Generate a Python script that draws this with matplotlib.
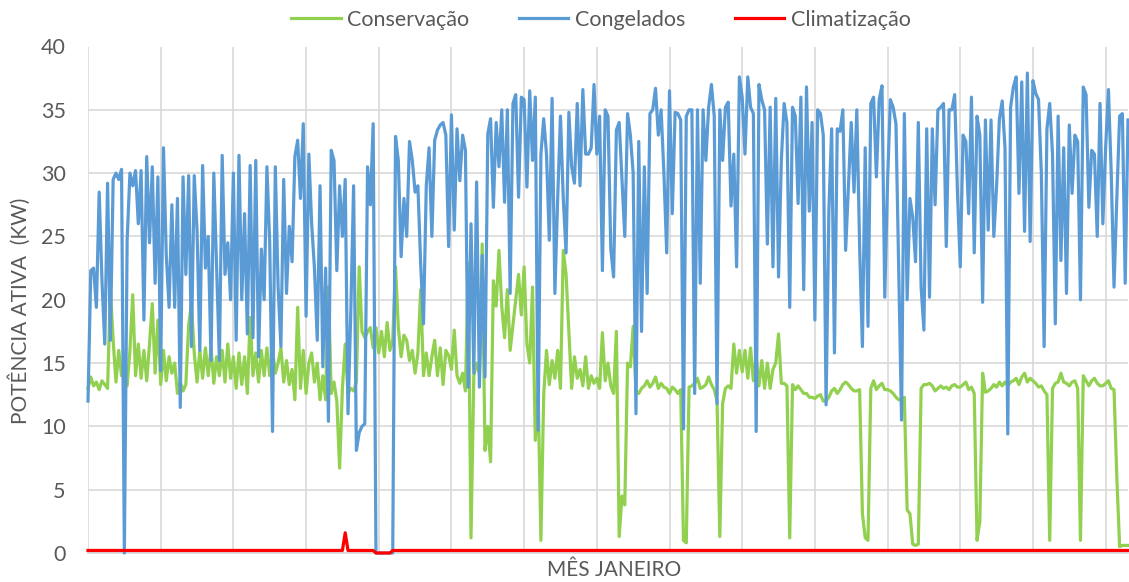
import numpy as np
import matplotlib
matplotlib.use('Agg')
import matplotlib.pyplot as plt

plt.rcParams['font.family'] = ['Lato', 'DejaVu Sans']

# potência ativa (kW), uma leitura a cada 2 horas durante janeiro
conservacao = [
    13.0, 13.9, 13.2, 13.5, 12.9, 13.6, 13.3, 13.0, 20.8, 16.8,
    13.5, 16.0, 14.0, 15.5, 13.2, 16.0, 20.4, 14.0, 16.5, 13.8,
    16.0, 13.6, 16.5, 19.7, 14.2, 18.4, 13.3, 16.0, 13.6, 15.5,
    14.2, 15.0, 12.6, 13.5, 12.8, 13.3, 18.0, 19.7, 15.8, 13.5,
    16.0, 13.8, 16.2, 14.0, 16.2, 13.4, 15.5, 14.0, 16.0, 13.5,
    16.5, 13.8, 15.5, 13.0, 15.8, 13.3, 15.5, 12.6, 18.6, 14.0,
    15.8, 13.5, 16.0, 14.0, 16.2, 14.0, 16.0, 14.2, 15.0, 16.2,
    13.5, 15.2, 13.3, 14.5, 12.1, 19.4, 13.0, 16.0, 12.6, 15.0,
    15.8, 13.5, 15.0, 12.1, 14.0, 12.1, 21.0, 12.6, 13.5, 12.0,
    6.7, 13.0, 16.5, 12.6, 13.0, 12.8, 13.5, 22.6, 17.5, 17.0,
    17.5, 17.8, 16.2, 17.8, 15.8, 17.5, 15.5, 18.2, 16.0, 16.8,
    22.6, 17.8, 15.5, 17.2, 16.8, 15.2, 16.0, 14.2, 15.8, 20.8,
    14.0, 15.8, 14.0, 15.5, 16.8, 14.0, 16.2, 13.3, 16.0, 15.6,
    14.5, 17.6, 14.0, 13.4, 14.2, 12.8, 22.9, 1.2, 14.0, 15.0,
    14.2, 24.4, 8.1, 10.0, 7.2, 21.5, 19.5, 23.9, 19.5, 17.0,
    20.8, 16.0, 18.0, 20.0, 22.0, 18.8, 22.6, 16.5, 15.0, 21.0,
    8.9, 12.8, 1.0, 12.5, 16.0, 13.3, 15.2, 13.8, 16.0, 13.0,
    23.9, 22.0, 17.5, 13.0, 15.5, 13.8, 14.5, 13.2, 15.5, 13.0,
    14.0, 13.4, 13.8, 13.0, 17.4, 13.6, 15.0, 13.2, 12.6, 17.5,
    1.3, 4.5, 3.8, 15.0, 14.7, 17.9, 12.8, 12.6, 13.0, 13.2,
    13.6, 13.1, 13.4, 13.9, 13.0, 13.4, 13.1, 13.0, 12.6, 13.1,
    12.9, 12.6, 12.9, 1.0, 0.8, 13.1, 13.2, 13.4, 13.8, 13.0,
    13.1, 13.3, 13.9, 13.3, 12.9, 12.0, 1.3, 11.8, 13.0, 13.2,
    13.0, 16.5, 14.2, 16.0, 14.3, 16.0, 13.8, 16.2, 13.6, 15.5,
    13.2, 15.2, 13.0, 15.0, 13.0, 14.5, 15.0, 17.3, 13.4, 13.4,
    13.2, 1.2, 13.3, 12.9, 13.2, 12.9, 12.6, 12.6, 12.3, 12.3,
    12.2, 12.4, 12.5, 12.0, 12.0, 12.3, 12.8, 13.0, 12.6, 12.9,
    13.3, 13.5, 13.3, 13.0, 12.8, 12.8, 12.9, 3.1, 1.2, 1.0,
    13.0, 13.6, 12.9, 13.2, 13.4, 12.9, 12.9, 12.8, 12.6, 12.3,
    12.1, 12.1, 12.3, 3.4, 3.1, 0.7, 0.6, 0.7, 13.0, 13.3,
    13.3, 13.4, 13.2, 12.8, 13.0, 13.2, 13.0, 13.1, 12.9, 13.2,
    13.3, 13.1, 13.1, 13.3, 13.5, 12.9, 13.1, 12.6, 1.0, 2.5,
    14.2, 12.7, 12.8, 13.0, 13.3, 13.1, 13.5, 13.2, 13.5, 13.2,
    13.5, 13.6, 13.8, 13.3, 13.9, 14.2, 13.5, 13.8, 13.6, 13.4,
    13.1, 13.2, 12.8, 12.5, 1.0, 13.0, 13.4, 13.5, 14.2, 13.5,
    13.4, 13.2, 13.5, 13.6, 13.0, 1.0, 14.0, 13.6, 13.2, 13.6,
    13.8, 13.4, 13.2, 13.2, 13.4, 13.6, 13.0, 12.9, 6.0, 0.5,
    0.6, 0.6, 0.6,
]

congelados = [
    12.0, 22.3, 22.5, 19.4, 28.5, 21.5, 16.5, 29.2, 16.8, 29.5,
    30.0, 29.5, 30.3, 0.0, 24.7, 30.0, 29.0, 30.2, 26.0, 30.2,
    18.4, 31.3, 24.5, 30.5, 21.3, 29.7, 14.4, 32.0, 23.5, 19.4,
    27.5, 19.4, 28.0, 11.5, 29.7, 22.0, 29.8, 16.3, 29.8, 25.5,
    16.0, 30.6, 22.5, 25.0, 15.2, 30.0, 22.5, 15.2, 31.4, 22.0,
    24.5, 20.0, 30.0, 16.8, 31.4, 20.0, 26.8, 17.3, 30.6, 17.0,
    31.0, 15.5, 24.0, 20.0, 30.5, 24.5, 9.6, 30.5, 21.0, 16.3,
    29.5, 20.5, 25.8, 23.0, 31.3, 32.6, 28.0, 33.9, 18.7, 31.5,
    26.0, 22.5, 16.8, 29.0, 14.7, 22.5, 10.4, 31.8, 31.0, 22.3,
    29.0, 25.0, 29.5, 11.0, 19.0, 29.0, 8.1, 9.5, 10.0, 10.2,
    30.5, 27.5, 33.9, 0.0, 0.0, 0.0, 0.0, 0.0, 0.0, 0.0,
    32.9, 31.0, 23.4, 28.0, 25.0, 32.5, 31.0, 28.5, 29.0, 22.8,
    18.1, 29.0, 32.0, 25.0, 32.6, 33.4, 33.8, 34.0, 33.0, 24.2,
    34.6, 25.5, 33.5, 29.4, 33.0, 31.8, 13.1, 26.0, 14.2, 29.3,
    13.1, 23.5, 13.9, 33.1, 34.3, 27.3, 34.0, 30.5, 35.0, 27.7,
    35.0, 20.5, 35.5, 36.2, 28.1, 36.0, 35.8, 28.9, 36.5, 31.0,
    36.0, 9.7, 31.5, 34.3, 31.5, 24.7, 35.9, 20.5, 28.0, 34.5,
    28.0, 23.7, 34.8, 30.5, 29.2, 35.5, 29.0, 36.6, 31.5, 31.5,
    32.0, 37.0, 31.5, 34.5, 22.3, 35.0, 34.5, 24.0, 21.8, 33.4,
    34.0, 29.5, 25.0, 34.7, 33.0, 30.0, 11.0, 32.5, 17.5, 30.5,
    20.5, 34.7, 35.0, 36.7, 33.0, 35.0, 30.0, 23.7, 36.5, 26.8,
    34.8, 34.7, 34.2, 9.8, 34.5, 35.0, 35.0, 12.6, 35.0, 21.3,
    35.0, 31.0, 35.2, 37.0, 34.5, 11.8, 35.0, 31.0, 35.2, 35.6,
    27.4, 31.5, 22.6, 37.6, 36.0, 31.5, 37.6, 35.2, 34.7, 9.6,
    37.0, 35.8, 35.0, 24.4, 35.2, 22.6, 35.9, 21.8, 31.0, 35.5,
    34.0, 19.4, 35.2, 34.5, 27.6, 36.0, 20.8, 36.8, 27.0, 34.0,
    18.4, 35.0, 34.7, 33.0, 11.7, 27.0, 33.5, 15.8, 33.5, 33.3,
    35.0, 23.9, 29.0, 34.0, 28.5, 35.0, 24.2, 16.3, 32.0, 17.9,
    35.5, 36.0, 29.7, 35.8, 36.9, 20.2, 29.4, 35.8, 35.2, 33.9,
    22.3, 10.5, 34.7, 20.0, 28.0, 26.5, 23.0, 34.0, 21.0, 17.6,
    33.5, 20.2, 33.5, 27.5, 35.0, 35.2, 35.5, 24.2, 35.0, 35.0,
    36.2, 28.5, 22.6, 33.0, 32.5, 26.8, 36.0, 23.7, 34.5, 33.0,
    19.8, 34.2, 25.5, 34.2, 25.0, 29.0, 34.3, 35.7, 32.0, 9.4,
    35.2, 36.8, 37.6, 28.4, 37.2, 25.4, 37.9, 24.6, 37.3, 36.3,
    35.8, 30.0, 16.3, 33.5, 35.5, 31.5, 18.1, 34.5, 23.1, 32.0,
    20.5, 33.8, 28.4, 33.0, 32.5, 20.0, 36.8, 36.2, 27.3, 31.8,
    31.5, 25.0, 35.5, 26.0, 32.0, 36.6, 30.0, 21.0, 28.0, 34.5,
    34.7, 21.3, 34.2,
]

climatizacao = [0.2] * 92 + [1.6] + [0.2] * 10 + [0.0] * 6 + [0.2] * 264

series = [
    ('Conservação', conservacao, '#92D050'),
    ('Congelados', congelados, '#5B9BD5'),
    ('Climatização', climatizacao, '#FF0000'),
]

W, H = 1129, 582
fig = plt.figure(figsize=(W / 100, H / 100), dpi=100)
ax = fig.add_axes([88 / W, 29 / H, 1040 / W, 506.5 / H])

for nome, valores, cor in series:
    horas = np.arange(len(valores)) * 2
    ax.plot(horas, valores, color=cor, lw=2.3, label=nome, clip_on=False,
            solid_joinstyle='round', zorder=3)

ax.set_xlim(0, 744)
ax.set_ylim(0, 40)
ax.set_yticks(np.arange(0, 41, 5))
ax.set_xticks(np.arange(0, 744, 52))
ax.set_xticklabels([])
ax.tick_params(length=0, labelsize=15.5, labelcolor='#595959')
ax.tick_params(axis='y', pad=16)
ax.grid(True, color='#D9D9D9', lw=1.2)
ax.set_axisbelow(True)
for s in ['top', 'right', 'left']:
    ax.spines[s].set_visible(False)
ax.spines['bottom'].set_color('#D9D9D9')
ax.spines['bottom'].set_linewidth(1.2)

fig.text(20 / W, 1 - 311 / H, 'POTÊNCIA ATIVA  (KW)', rotation=90,
         ha='center', va='center', fontsize=15, color='#595959')
fig.text(614 / W, 1 - 570 / H, 'MÊS JANEIRO', ha='center', va='center',
         fontsize=15, color='#595959')

fig.legend(loc='center', bbox_to_anchor=(601 / W, 1 - 20 / H), ncol=3,
           frameon=False, handlelength=2.3, handletextpad=0.3,
           columnspacing=2.3, fontsize=15.5, labelcolor='#595959')

fig.savefig('out.png', dpi=100)
